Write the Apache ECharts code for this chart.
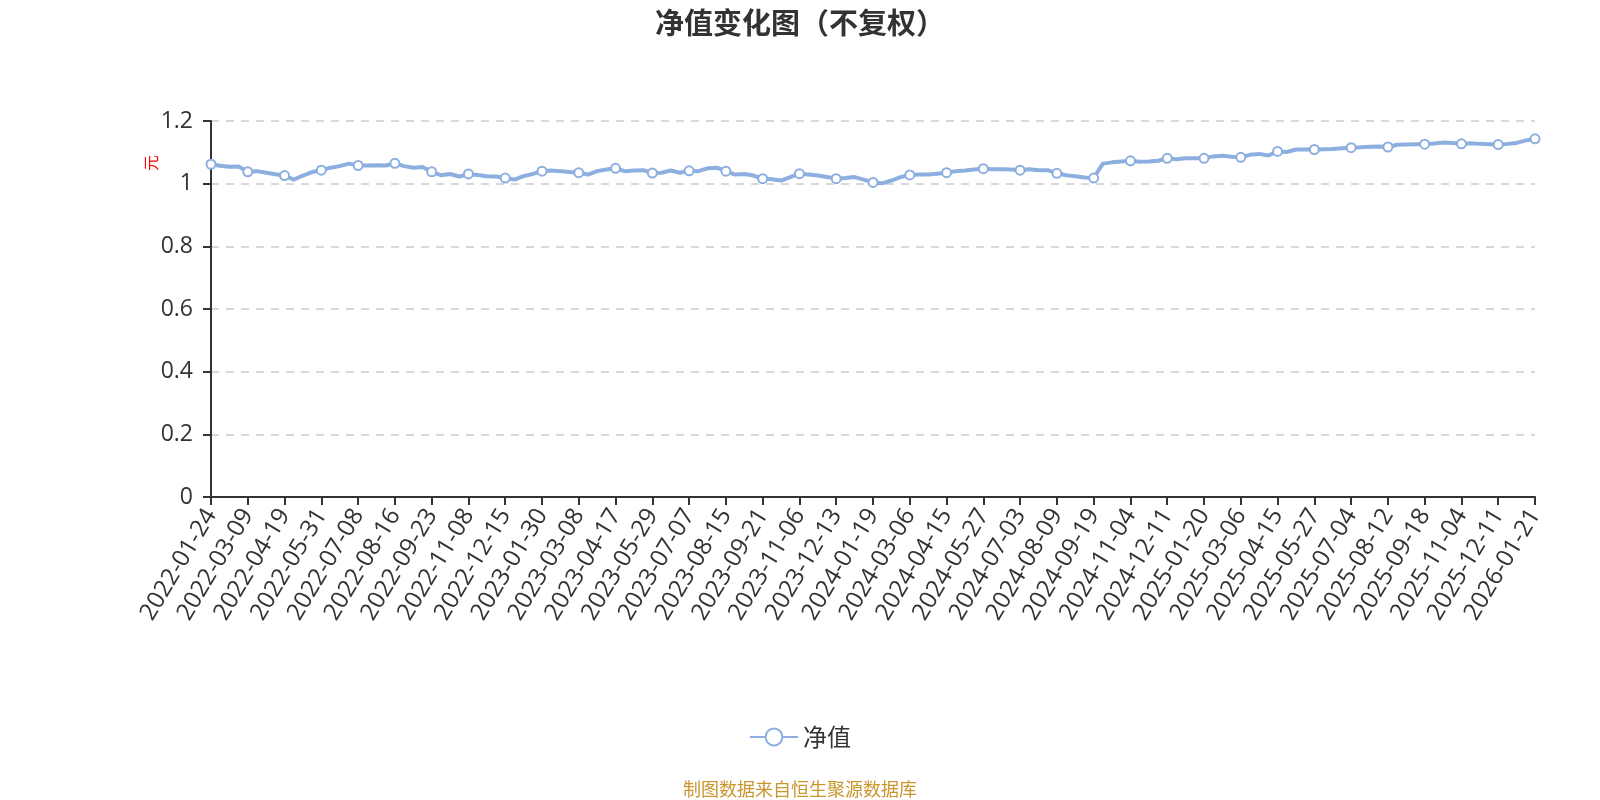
<!DOCTYPE html>
<html>
<head>
    <meta http-equiv="content-type" content="text/html;charset=utf-8" />
    <title>净值变化图</title>
    <script src="https://cdn.jsdelivr.net/npm/echarts@6/dist/echarts.min.js"></script>
</head>
<body style="margin:0;">
    <div id="main" style="width:1600px;height:800px;"></div>
    <script type="text/javascript">
        // 日期（每年一组）
        var dates2022 = ['2022-01-24','2022-02-10','2022-02-18','2022-03-01','2022-03-09','2022-03-18','2022-03-29','2022-04-08',
            '2022-04-19','2022-04-28','2022-05-12','2022-05-20','2022-05-31','2022-06-10','2022-06-20','2022-06-29',
            '2022-07-08','2022-07-18','2022-07-27','2022-08-05','2022-08-16','2022-08-25','2022-09-02','2022-09-14',
            '2022-09-23','2022-10-12','2022-10-20','2022-10-31','2022-11-08','2022-11-17','2022-11-25','2022-12-06',
            '2022-12-15','2022-12-26'];
        var dates2023 = ['2023-01-05','2023-01-16','2023-01-30','2023-02-08','2023-02-17','2023-02-27','2023-03-08','2023-03-17',
            '2023-03-28','2023-04-07','2023-04-17','2023-04-26','2023-05-10','2023-05-18','2023-05-29','2023-06-07',
            '2023-06-16','2023-06-28','2023-07-07','2023-07-17','2023-07-26','2023-08-04','2023-08-15','2023-08-24',
            '2023-09-01','2023-09-12','2023-09-21','2023-10-10','2023-10-18','2023-10-27','2023-11-06','2023-11-15',
            '2023-11-23','2023-12-04','2023-12-13','2023-12-22'];
        var dates2024 = ['2024-01-02','2024-01-10','2024-01-19','2024-01-30','2024-02-07','2024-02-26','2024-03-06','2024-03-15',
            '2024-03-26','2024-04-03','2024-04-15','2024-04-24','2024-05-08','2024-05-16','2024-05-27','2024-06-05',
            '2024-06-14','2024-06-24','2024-07-03','2024-07-12','2024-07-22','2024-07-31','2024-08-09','2024-08-20',
            '2024-08-29','2024-09-09','2024-09-19','2024-09-27','2024-10-15','2024-10-24','2024-11-04','2024-11-13',
            '2024-11-21','2024-12-02','2024-12-11','2024-12-20','2024-12-31'];
        var dates2025 = ['2025-01-09','2025-01-20','2025-02-06','2025-02-14','2025-02-25','2025-03-06','2025-03-17','2025-03-26',
            '2025-04-03','2025-04-15','2025-04-24','2025-05-08','2025-05-16','2025-05-27','2025-06-06','2025-06-16',
            '2025-06-25','2025-07-04','2025-07-15','2025-07-23','2025-08-01','2025-08-12','2025-08-21','2025-08-29',
            '2025-09-09','2025-09-18','2025-09-29','2025-10-17','2025-10-24','2025-11-04','2025-11-13','2025-11-21',
            '2025-12-02','2025-12-11','2025-12-19','2025-12-30'];
        var dates2026 = ['2026-01-12','2026-01-21'];

        // 单位净值（元）
        var nav2022 = [1.062,1.057,1.054,1.055,1.038,1.040,1.035,1.030,
            1.026,1.013,1.026,1.037,1.043,1.051,1.056,1.064,
            1.058,1.058,1.059,1.058,1.065,1.056,1.051,1.053,
            1.038,1.027,1.031,1.023,1.031,1.028,1.024,1.023,
            1.018,1.013];
        var nav2023 = [1.024,1.031,1.040,1.042,1.040,1.037,1.035,1.029,
            1.040,1.045,1.049,1.040,1.042,1.043,1.034,1.035,
            1.042,1.035,1.041,1.040,1.049,1.051,1.040,1.029,
            1.031,1.026,1.016,1.014,1.010,1.021,1.032,1.029,
            1.026,1.021,1.016,1.018];
        var nav2024 = [1.021,1.013,1.004,1.001,1.010,1.021,1.028,1.029,
            1.029,1.032,1.035,1.040,1.042,1.045,1.048,1.046,
            1.046,1.045,1.043,1.046,1.043,1.043,1.033,1.027,
            1.024,1.020,1.018,1.064,1.068,1.071,1.073,1.070,
            1.071,1.073,1.081,1.078,1.081];
        var nav2025 = [1.081,1.081,1.087,1.089,1.086,1.084,1.092,1.095,
            1.090,1.103,1.101,1.109,1.109,1.109,1.110,1.111,
            1.113,1.115,1.116,1.118,1.119,1.117,1.124,1.125,
            1.126,1.126,1.128,1.131,1.130,1.127,1.129,1.127,
            1.126,1.125,1.127,1.130];
        var nav2026 = [1.138,1.143];

        var yTicks = [0, 0.2, 0.4, 0.6, 0.8, 1, 1.2];

        var xaxis = dates2022.concat(dates2023, dates2024, dates2025, dates2026);
        var yaxis = nav2022.concat(nav2023, nav2024, nav2025, nav2026);

        var myChart = echarts.init(document.getElementById('main'));
        var lineColor = '#8cafe0';
        var labelFont = 'Open Sans';

        var option = {
            textStyle: { fontFamily: 'Noto Sans CJK SC' },
            title: [{
                text: '净值变化图（不复权）',
                left: 'center',
                top: 3,
                textStyle: { fontSize: 29, fontWeight: 'bold', color: '#333' }
            }, {
                text: '制图数据来自恒生聚源数据库',
                left: 'center',
                top: 775,
                textStyle: { fontSize: 18, fontWeight: 'normal', color: '#c8962d' }
            }],
            legend: {
                top: 720,
                left: 'center',
                itemWidth: 48,
                itemHeight: 21,
                textStyle: { fontSize: 24, color: '#333' },
                data: ['净值']
            },
            grid: { left: 211, right: 65, top: 121, bottom: 303 },
            xAxis: {
                type: 'category',
                boundaryGap: false,
                data: xaxis,
                axisLine: { lineStyle: { color: '#333', width: 2 } },
                axisTick: { interval: 3, length: 8, lineStyle: { color: '#333', width: 2 } },
                axisLabel: { interval: 3, rotate: 59, fontSize: 24, fontFamily: labelFont, color: '#333', margin: 14 }
            },
            yAxis: {
                type: 'value',
                min: yTicks[0],
                max: yTicks[yTicks.length - 1],
                interval: 0.2,
                name: '元',
                nameLocation: 'end',
                nameGap: -42,
                nameRotate: 90,
                nameTextStyle: { color: '#f00', fontSize: 16, align: 'center', verticalAlign: 'bottom', padding: [0, 0, 52, 0] },
                axisLine: { show: true, lineStyle: { color: '#333', width: 2 } },
                axisTick: { show: true, length: 8, lineStyle: { color: '#333', width: 2 } },
                axisLabel: { fontSize: 23, fontFamily: labelFont, color: '#333', margin: 18 },
                splitLine: { lineStyle: { type: [8, 7], color: '#ccc', width: 1.5 } }
            },
            series: [{
                name: '净值',
                type: 'line',
                data: yaxis,
                symbol: 'emptyCircle',
                symbolSize: 9,
                showAllSymbol: 'auto',
                lineStyle: { color: lineColor, width: 4 },
                itemStyle: { color: lineColor, borderWidth: 2 }
            }]
        };

        myChart.setOption(option);
    </script>
</body>
</html>
